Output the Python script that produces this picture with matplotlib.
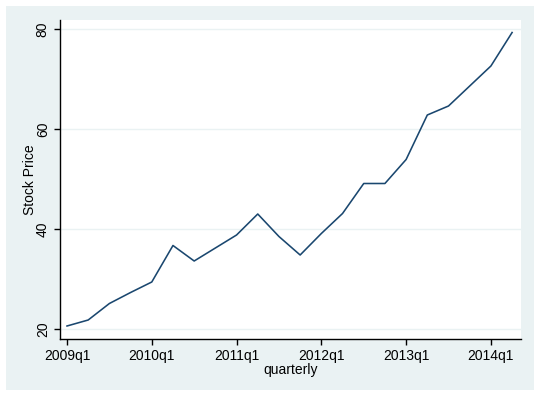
import numpy as np
import matplotlib.pyplot as plt
from matplotlib.patches import Rectangle

plt.rcParams['font.family'] = ['Liberation Sans', 'DejaVu Sans']

# quarters 2009q1 .. 2014q2
quarter_idx = list(range(22))
stock_price = [20.6, 21.8, 25.1, 27.3, 29.4, 36.7, 33.6, 36.2, 38.8, 43.0, 38.5,
               34.8, 39.1, 43.1, 49.1, 49.1, 53.9, 62.8, 64.6, 68.6, 72.6, 79.3]
xtick_pos = [0, 4, 8, 12, 16, 20]
xtick_labels = ['2009q1', '2010q1', '2011q1', '2012q1', '2013q1', '2014q1']
ytick_vals = [20, 40, 60, 80]

W, H = 540, 396
fig = plt.figure(figsize=(W / 100, H / 100), dpi=100, facecolor='white')

# stata-like graph region
fig.patches.append(Rectangle((6 / W, 6 / H), 528 / W, 384 / H,
                             transform=fig.transFigure, facecolor='#EAF2F3',
                             edgecolor='none', zorder=-10))

ax = fig.add_axes([60 / W, 1 - 339 / H, 461 / W, 319 / H])
ax.set_facecolor('white')

ax.plot(quarter_idx, stock_price, color='#1A476F', linewidth=1.15, zorder=3)

ax.set_xlim(-0.33, 21.42)
ax.set_ylim(18.0, 81.8)

ax.set_xticks(xtick_pos)
ax.set_xticklabels(xtick_labels)
ax.set_yticks(ytick_vals)
ax.set_yticklabels([str(v) for v in ytick_vals], rotation=90, va='center')

ax.grid(axis='y', color='#EAF2F3', linewidth=1.0, zorder=1)
ax.grid(axis='x', visible=False)

for s in ['top', 'right']:
    ax.spines[s].set_visible(False)
for s in ['left', 'bottom']:
    ax.spines[s].set_color('black')
    ax.spines[s].set_linewidth(1.0)

ax.tick_params(axis='both', direction='out', length=4.3, width=1.0,
               color='black', labelsize=10, pad=3)
ax.set_xlabel('quarterly', fontsize=10, labelpad=0)
ax.set_ylabel('Stock Price', fontsize=10)
ax.yaxis.set_label_coords(-0.049, 0.5)

fig.savefig('out.png', dpi=100, facecolor='white')
